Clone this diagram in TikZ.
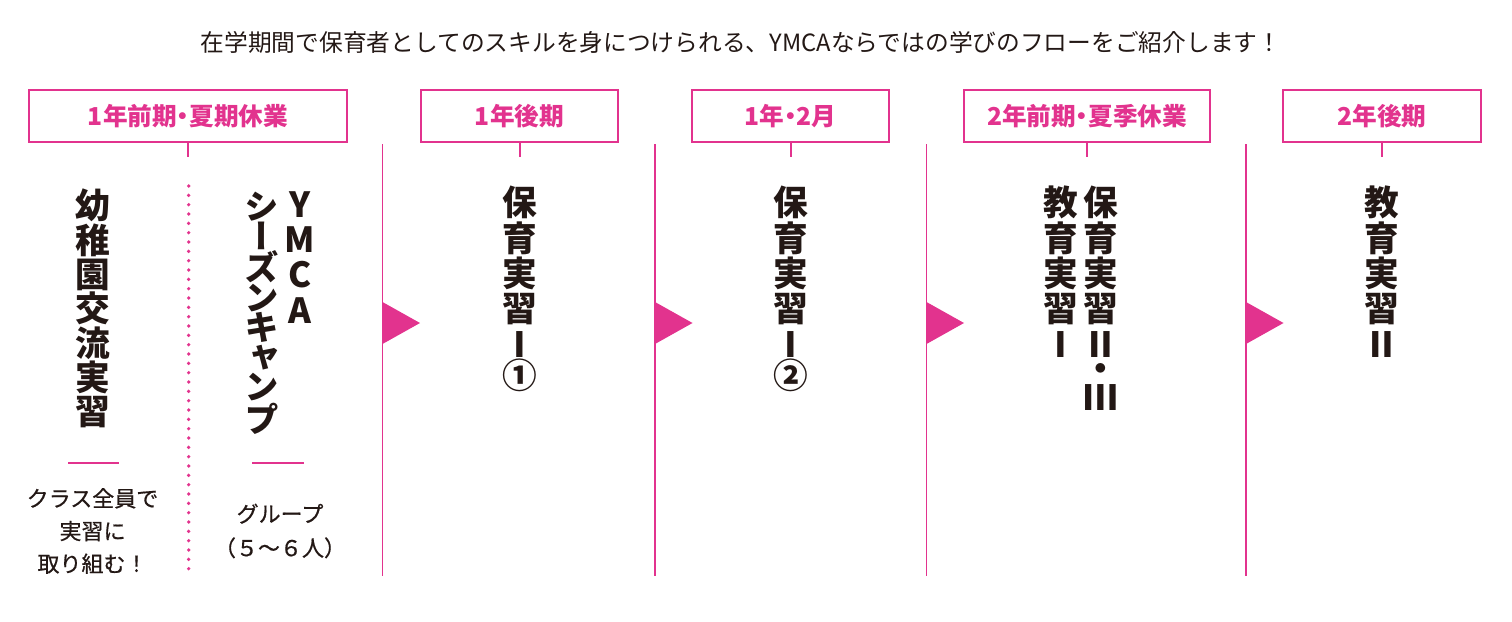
\documentclass[tikz,border=0pt]{standalone}
\usepackage{fontspec}
\usepackage{tikz}
\usetikzlibrary{positioning}
\newfontfamily\jpfont{Noto Sans CJK JP}
\newfontfamily\jpnote[FakeBold=0.6]{Noto Sans CJK JP}
\newfontfamily\jpvert[RawFeature=+vert]{Noto Sans CJK JP}
\newfontfamily\jplabel[RawFeature=+palt]{Noto Sans CJK JP}
\definecolor{ympink} {RGB}{226, 51, 142}
\definecolor{ymblack}{RGB}{35, 24, 21}
\tikzset{
  % term label box
  termbox/.style={
    rectangle, minimum height=39pt, inner sep=0pt,
    draw=ympink, line width=1.5pt, text=ympink,
    font=\jplabel\fontsize{18.5pt}{20pt}\selectfont\bfseries
  },
  % vertical course title
  course/.style={
    anchor=north, align=center, inner sep=0pt, text=ymblack,
    font=\jpvert\fontsize{26pt}{26.5pt}\selectfont\bfseries
  },
  % small note under a course
  note/.style={
    align=center, inner sep=0pt, text=ymblack,
    font=\jpnote\fontsize{16.5pt}{24.5pt}\selectfont
  },
  % tick and divider lines
  tick/.style={line width=1.5pt, color=ympink},
  divider/.style={line width=1pt, color=ympink},
}
\begin{document}
\begin{tikzpicture}[x=0.75pt, y=-0.75pt]
  \useasboundingbox (0,0) rectangle (1512,621);
  \node[note, font=\jpfont\fontsize{17.8pt}{20pt}\selectfont] (lead) at (741,42)
    {在学期間で保育者としてのスキルを身につけられる、YMCAならではの学びのフローをご紹介します！};

  % term boxes
  \node[termbox, minimum width=239pt]   (t1) at (188,116)    {1年前期・夏期休業};
  \node[termbox, minimum width=148pt]   (t2) at (519.5,116)  {1年後期};
  \node[termbox, minimum width=148pt]   (t3) at (790.5,116)  {1年・2月};
  \node[termbox, minimum width=185pt]   (t4) at (1087,116)   {2年前期・夏季休業};
  \node[termbox, minimum width=148pt]   (t5) at (1382,116)   {2年後期};
  \coordinate (k1) at (188,157);
  \coordinate (k2) at (519.5,157);
  \coordinate (k3) at (790.5,157);
  \coordinate (k4) at (1087,157);
  \coordinate (k5) at (1382,157);
  \draw[tick] (t1) -- (k1);
  \draw[tick] (t2) -- (k2);
  \draw[tick] (t3) -- (k3);
  \draw[tick] (t4) -- (k4);
  \draw[tick] (t5) -- (k5);

  % dividers with arrow heads
  \draw[divider] (382.5,144) -- (382.5,576);
  \draw[divider] (655,144) -- (655,576);
  \draw[divider] (926.5,144) -- (926.5,576);
  \draw[divider] (1246,144) -- (1246,576);
  \fill[ympink] (382.5,302) -- (420,323) -- (382.5,344) -- cycle;
  \fill[ympink] (655,302) -- (692.5,323) -- (655,344) -- cycle;
  \fill[ympink] (926.5,302) -- (964,323) -- (926.5,344) -- cycle;
  \fill[ympink] (1246,302) -- (1283.5,323) -- (1246,344) -- cycle;
  \draw[ympink, line width=2.8pt, line cap=round, dash pattern=on 0pt off 7pt]
    (188.7,186) -- (188.7,575);

  % courses
  \node[course, font=\jpvert\fontsize{26pt}{25.7pt}\selectfont\bfseries] (c1) at (93,189)
    {幼\\稚\\園\\交\\流\\実\\習};
  \node[course, font=\jpvert\fontsize{26pt}{22.3pt}\selectfont\bfseries] (c2) at (262,192)
    {シ\\ー\\ズ\\ン\\キ\\ャ\\ン\\プ};
  \node[course] (c2y) at (300,191) {Y\\M\\C\\A};
  \node[course] (c3) at (520,186) {保\\育\\実\\習\\Ⅰ\\[-3pt]①};
  \node[course] (c4) at (791,186) {保\\育\\実\\習\\Ⅰ\\[-3pt]②};
  \node[course] (c5) at (1061,186) {教\\育\\実\\習\\Ⅰ};
  \node[course] (c6) at (1101,186) {保\\育\\実\\習\\Ⅱ\\[-8pt]・\\[-5pt]Ⅲ};
  \node[course] (c7) at (1382,186) {教\\育\\実\\習\\Ⅱ};

  % notes
  \draw[tick] (68,462.5) -- (119,462.5);
  \draw[tick] (252,462.5) -- (304,462.5);
  \node[note] (n1) at (92.5,531) {クラス全員で\\実習に\\取り組む！};
  \node[note, font=\jpnote\fontsize{16.5pt}{25.5pt}\selectfont] (n2) at (280,531) {グループ\\（５〜６人）};
\end{tikzpicture}
\end{document}
